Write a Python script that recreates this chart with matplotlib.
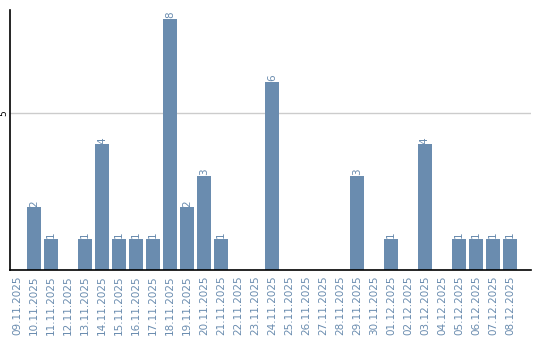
import matplotlib
matplotlib.use("Agg")
import matplotlib.pyplot as plt

# one bar per day
dates = ["09.11.2025", "10.11.2025", "11.11.2025", "12.11.2025", "13.11.2025",
         "14.11.2025", "15.11.2025", "16.11.2025", "17.11.2025", "18.11.2025",
         "19.11.2025", "20.11.2025", "21.11.2025", "22.11.2025", "23.11.2025",
         "24.11.2025", "25.11.2025", "26.11.2025", "27.11.2025", "28.11.2025",
         "29.11.2025", "30.11.2025", "01.12.2025", "02.12.2025", "03.12.2025",
         "04.12.2025", "05.12.2025", "06.12.2025", "07.12.2025", "08.12.2025"]
counts = [0, 2, 1, 0, 1, 4, 1, 1, 1, 8, 2, 3, 1, 0, 0,
          6, 0, 0, 0, 0, 3, 0, 1, 0, 4, 0, 1, 1, 1, 1]

bar_color = "#6a8caf"
label_color = "#6a8caf"

fig = plt.figure(figsize=(5.4, 3.4), dpi=100)
ax = fig.add_axes([10 / 540, 70 / 340, 521 / 540, 260 / 340])

x = list(range(len(dates)))
ax.bar(x, counts, width=0.82, color=bar_color, zorder=2)

for xi, v in zip(x, counts):
    if v > 0:
        ax.text(xi, v + 0.02, str(v), rotation=90, ha="center", va="bottom",
                fontsize=7.5, color=label_color)

ax.set_xlim(-0.41, 30.24)
ax.set_ylim(0, 8.28)
ax.set_xticks(x)
ax.set_xticklabels(dates, rotation=90, fontsize=7.5, color=label_color)
ax.set_yticks([5])
ax.set_yticklabels(["5"], rotation=90, fontsize=6.5, va="center")
ax.tick_params(axis="x", length=0, pad=4)
ax.tick_params(axis="y", length=0, pad=1)

ax.axhline(5, color="#cccccc", linewidth=1, zorder=1)

for side in ("top", "right"):
    ax.spines[side].set_visible(False)
ax.spines["left"].set_linewidth(1.2)
ax.spines["bottom"].set_linewidth(1.2)

fig.savefig("out.png", dpi=100)
